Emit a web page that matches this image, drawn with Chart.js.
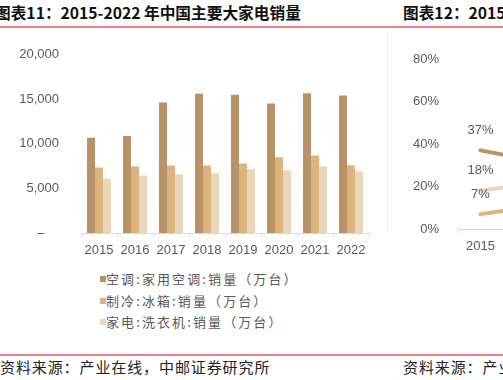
<!DOCTYPE html>
<html><head><meta charset="utf-8">
<script src="https://cdn.jsdelivr.net/npm/chart.js@4/dist/chart.umd.min.js"></script>
<style>
html,body{margin:0;padding:0;background:#fff;}
body{width:503px;height:380px;overflow:hidden;position:relative;font-family:"Noto Sans CJK SC",sans-serif;}
.title{position:absolute;top:3px;font-weight:bold;font-size:15.7px;color:#111;white-space:nowrap;line-height:20px;}
.redline{position:absolute;left:0;width:503px;height:2px;background:#e58585;}
.src{position:absolute;top:357px;font-size:15px;color:#222;white-space:nowrap;letter-spacing:0.9px;line-height:20px;}
#legend{position:absolute;left:100px;top:268px;font-size:13px;color:#595959;letter-spacing:2.1px;}
#legend div{height:21.5px;line-height:21.5px;white-space:nowrap;}
#legend span.sq{display:inline-block;width:6px;height:6px;margin-right:0px;vertical-align:middle;position:relative;top:-1px;}
.vline{position:absolute;left:387px;top:32px;width:1px;height:200px;background:#f3f3f3;}
</style></head>
<body>
<div class="title" style="left:-5px;">图表11：2015-2022 年中国主要大家电销量</div>
<div class="title" style="left:403px;">图表12：2015-2022</div>
<div class="redline" style="top:26px;"></div>
<div class="vline"></div>
<div style="position:absolute;left:0;top:33px;width:375px;height:230px;"><canvas id="c1"></canvas></div>
<div style="position:absolute;left:370px;top:40px;width:460px;height:223px;"><canvas id="c2"></canvas></div>
<div id="legend"></div>
<div class="redline" style="top:354px;"></div>
<div class="src" style="left:0;">资料来源：产业在线，中邮证券研究所</div>
<div class="src" style="left:403px;">资料来源：产业在线，中邮证券研究所</div>
<script>
const years = ["2015","2016","2017","2018","2019","2020","2021","2022"];
const acSales = [10700, 10880, 14650, 15620, 15520, 14540, 15690, 15440];
const fridgeSales = [7350, 7460, 7570, 7570, 7800, 8500, 8690, 7610];
const washerSales = [6070, 6450, 6600, 6710, 7190, 7050, 7490, 6940];
const seriesNames = ["空调:家用空调:销量（万台）","制冷:冰箱:销量（万台）","家电:洗衣机:销量（万台）"];
const seriesColors = ["#b8936a","#dcb47c","#ebd5bb"];
// right panel (partially visible)
const shareYears = ["2015","2016","2017","2018","2019","2020","2021","2022"];
const acShare = [37, 33, null, null, null, null, null, null];
const fridgeShare = [7, 10, null, null, null, null, null, null];
const washerShare = [18, 21, null, null, null, null, null, null];

const tickFont = {family:"'Liberation Sans', Arial, sans-serif", size:13};
const gray = "#595959";

const c1 = new Chart(document.getElementById('c1'), {
  type:'bar',
  data:{labels:years, datasets:[
    {label:seriesNames[0], data:acSales, backgroundColor:seriesColors[0]},
    {label:seriesNames[1], data:fridgeSales, backgroundColor:seriesColors[1]},
    {label:seriesNames[2], data:washerSales, backgroundColor:seriesColors[2]}
  ]},
  options:{
    responsive:true, maintainAspectRatio:false, animation:false,
    layout:{padding:{top:3,right:6,left:0,bottom:0}},
    plugins:{legend:{display:false}, tooltip:{enabled:false}},
    datasets:{bar:{categoryPercentage:0.667, barPercentage:1.0}},
    scales:{
      x:{
        grid:{display:true, drawOnChartArea:false, drawTicks:true, tickLength:4, color:"#d9d9d9", offset:true},
        border:{display:true, color:"#d9d9d9", width:1},
        ticks:{color:gray, font:tickFont, padding:6, maxRotation:0},
        afterFit:s=>{s.height=30;}
      },
      y:{
        min:0, max:20000,
        grid:{display:false},
        border:{display:false},
        ticks:{stepSize:5000, color:gray, font:tickFont, padding:14,
          callback:v=> v===0 ? "–    " : v.toLocaleString('en-US')},
        afterFit:s=>{s.width=81;}
      }
    }
  }
});

// legend
const lg = document.getElementById('legend');
c1.data.datasets.forEach(ds=>{
  const d=document.createElement('div');
  const sq=document.createElement('span'); sq.className='sq'; sq.style.background=ds.backgroundColor;
  d.appendChild(sq); d.appendChild(document.createTextNode(ds.label));
  lg.appendChild(d);
});

const pointLabels = {
  id:'pointLabels',
  afterDatasetsDraw(chart){
    const ctx=chart.ctx;
    ctx.save();
    ctx.font="13px 'Liberation Sans', Arial, sans-serif";
    ctx.fillStyle=gray; ctx.textAlign='center'; ctx.textBaseline='middle';
    chart.data.datasets.forEach((ds,i)=>{
      chart.getDatasetMeta(i).data.forEach((pt,j)=>{
        const v=ds.data[j];
        if(v===null||v===undefined) return;
        ctx.fillText(v+'%', pt.x, pt.y-20);
      });
    });
    ctx.restore();
  }
};

new Chart(document.getElementById('c2'), {
  type:'line',
  data:{labels:shareYears, datasets:[
    {label:"空调", data:acShare, borderColor:seriesColors[0]},
    {label:"冰箱", data:fridgeShare, borderColor:seriesColors[1]},
    {label:"洗衣机", data:washerShare, borderColor:seriesColors[2]}
  ]},
  options:{
    responsive:true, maintainAspectRatio:false, animation:false,
    layout:{padding:{top:19,right:12,left:0,bottom:0}},
    elements:{line:{borderWidth:4, borderCapStyle:'round', tension:0}, point:{radius:0}},
    plugins:{legend:{display:false}, tooltip:{enabled:false}},
    scales:{
      x:{
        offset:true,
        grid:{display:true, drawOnChartArea:false, drawTicks:true, tickLength:4, color:"#d9d9d9", offset:true},
        border:{display:true, color:"#d9d9d9", width:1},
        ticks:{color:gray, font:tickFont, padding:6, maxRotation:0},
        afterFit:s=>{s.height=34;}
      },
      y:{
        min:0, max:80,
        grid:{display:false},
        border:{display:false},
        ticks:{stepSize:20, color:gray, font:tickFont, padding:11, callback:v=>v+'%'},
        afterFit:s=>{s.width=88;}
      }
    }
  },
  plugins:[pointLabels]
});
</script>
</body></html>
